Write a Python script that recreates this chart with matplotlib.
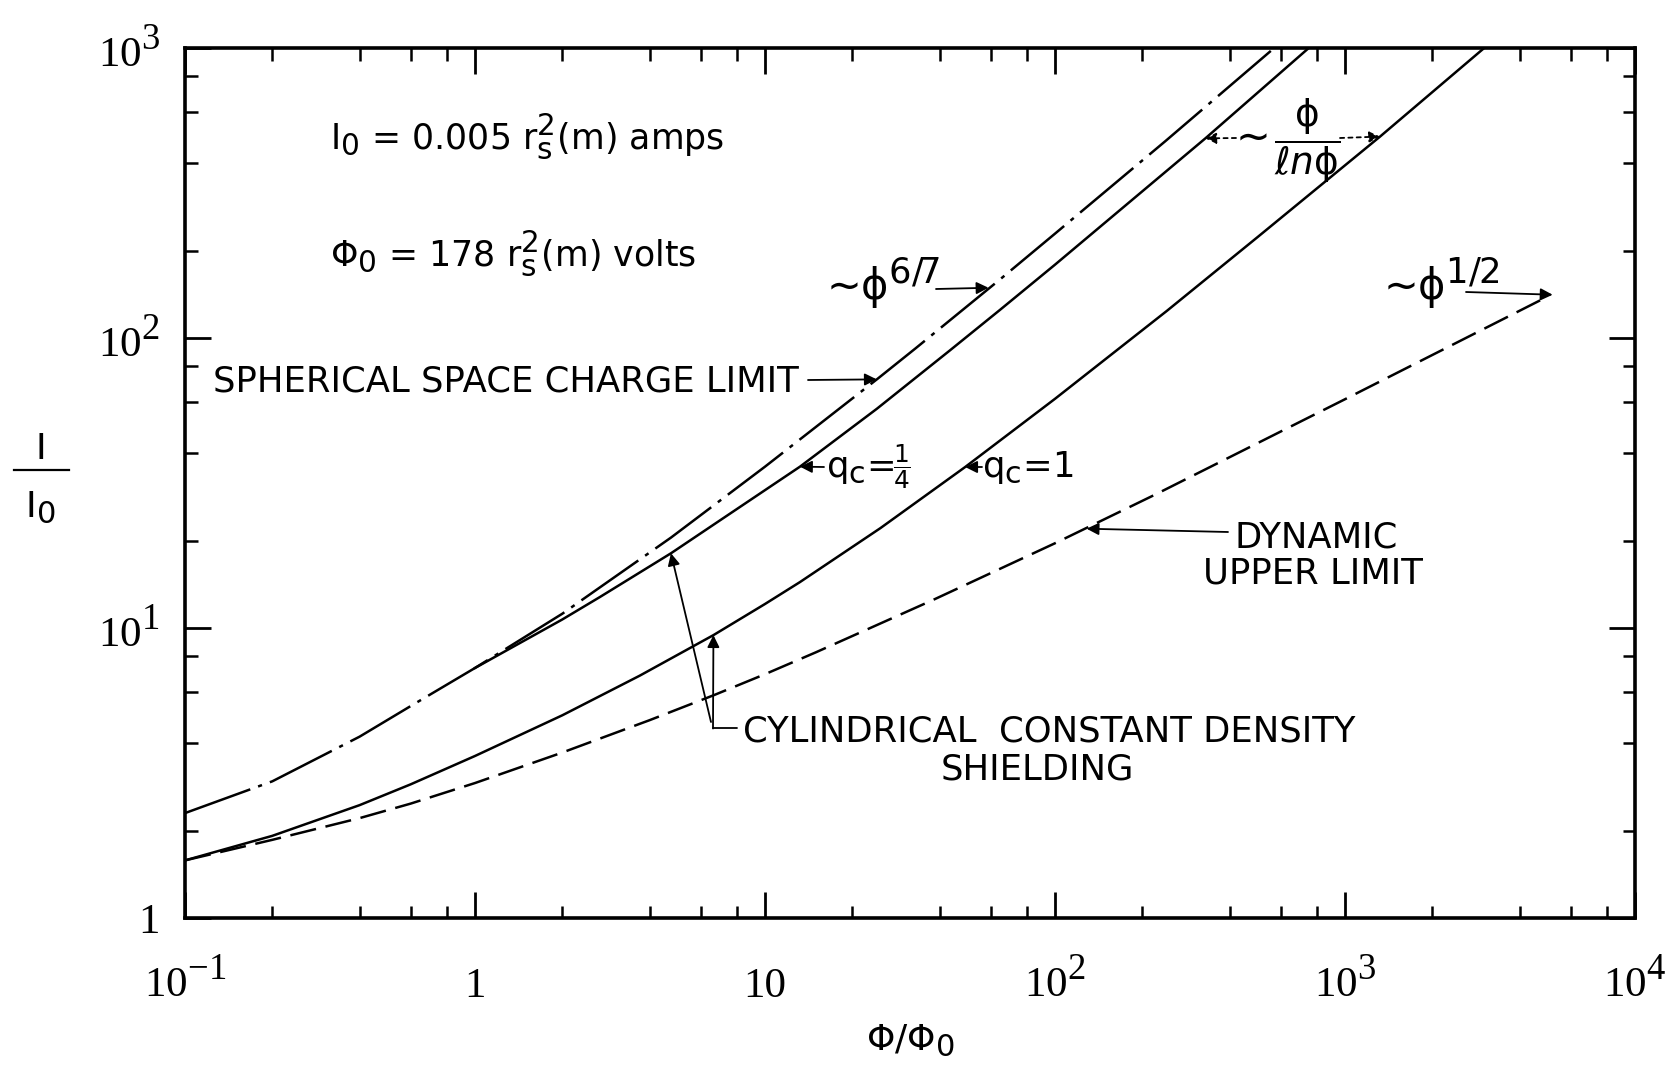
import matplotlib
matplotlib.use("Agg")
import matplotlib.pyplot as plt
from matplotlib.lines import Line2D
from matplotlib.ticker import FixedLocator, LogLocator, NullFormatter

try:  # larger sub/superscripts, as in the original lettering
    import matplotlib._mathtext as _mt
    _mt.SHRINK_FACTOR = 0.85
except Exception:
    pass

plt.rcParams['lines.scale_dashes'] = False
plt.rcParams['mathtext.fontset'] = 'custom'
plt.rcParams['mathtext.rm'] = 'Liberation Serif'
plt.rcParams['mathtext.sf'] = 'DejaVu Sans'
plt.rcParams['mathtext.it'] = 'DejaVu Sans:italic'
plt.rcParams['mathtext.bf'] = 'DejaVu Sans:bold'
plt.rcParams['font.family'] = ['DejaVu Sans']

# ---------------- data ----------------
# spherical space charge limit (dash-dot)
scl_x = [0.1, 0.2, 0.4, 0.6, 1.0, 2.0, 4.74, 10, 24.3, 33, 65, 100, 240, 570]
scl_y = [2.30, 2.96, 4.22, 5.38, 7.28, 11.2, 20.5, 36.0, 72, 92, 160, 229, 477, 1000]

# cylindrical constant density shielding, q_c = 1/4 (solid)
qquarter_x = [1.0, 2.0, 2.7, 4.74, 13.2, 24.3, 43.4, 64.6, 100, 330, 750]
qquarter_y = [7.28, 10.7, 12.8, 18.1, 36.0, 57, 90.6, 125, 179, 488, 1000]

# cylindrical constant density shielding, q_c = 1 (solid)
qone_x = [0.1, 0.2, 0.4, 0.6, 1.0, 2.0, 3.7, 6.64, 10, 13.2, 25, 49, 100, 243, 500, 1321, 3020]
qone_y = [1.58, 1.92, 2.45, 2.89, 3.62, 5.0, 6.85, 9.45, 12.1, 14.4, 22.1, 35.9, 61.7, 124, 223, 495, 1000]

# dynamic upper limit (dashed)
dul_x = [0.1, 0.2, 0.4, 0.6, 1.0, 2.0, 4.0, 6.7, 10, 15, 38, 100, 224, 1000, 5000]
dul_y = [1.58, 1.86, 2.21, 2.48, 2.92, 3.72, 4.81, 5.88, 6.93, 8.25, 12.5, 19.6, 29.0, 61.5, 139]

xticks = [0.1, 1, 10, 100, 1000, 10000]
xticklabels = [r'10$^{\mathrm{-1}}$', '1', '10', r'10$^{\mathrm{2}}$', r'10$^{\mathrm{3}}$', r'10$^{\mathrm{4}}$']
yticks = [1, 10, 100, 1000]
yticklabels = ['1', r'10$^{\mathrm{1}}$', r'10$^{\mathrm{2}}$', r'10$^{\mathrm{3}}$']

# ---------------- figure ----------------
W, H = 1668, 1073
fig = plt.figure(figsize=(W / 100, H / 100), dpi=100)
AX_L, AX_R, AX_T, AX_B = 185, 1635, 48, 918
ax = fig.add_axes([AX_L / W, 1 - AX_B / H, (AX_R - AX_L) / W, (AX_B - AX_T) / H])


def P(px, py):
    """pixel position in the picture -> axes fraction"""
    return ((px - AX_L) / (AX_R - AX_L), (AX_B - py) / (AX_B - AX_T))


LW = 1.8
ax.plot(scl_x, scl_y, color='black', lw=LW, linestyle=(0, (50, 6, 3, 6)))
ax.plot(qquarter_x, qquarter_y, color='black', lw=LW)
ax.plot(qone_x, qone_y, color='black', lw=LW)
ax.plot(dul_x, dul_y, color='black', lw=LW, linestyle=(0, (19, 7)))

ax.set_xscale('log')
ax.set_yscale('log')
ax.set_xlim(0.1, 1e4)
ax.set_ylim(1, 1e3)

ax.xaxis.set_major_locator(FixedLocator(xticks))
ax.yaxis.set_major_locator(FixedLocator(yticks))
ax.xaxis.set_minor_locator(LogLocator(base=10, subs=(2, 4, 6, 8), numticks=30))
ax.yaxis.set_minor_locator(LogLocator(base=10, subs=(2, 4, 6, 8), numticks=30))
ax.xaxis.set_minor_formatter(NullFormatter())
ax.yaxis.set_minor_formatter(NullFormatter())
ax.set_xticklabels(xticklabels)
ax.set_yticklabels(yticklabels)

ax.tick_params(which='both', direction='in', top=True, right=True, colors='black')
ax.tick_params(which='major', length=19, width=2.0)
ax.tick_params(which='minor', length=9, width=1.8)
ax.tick_params(axis='x', which='major', pad=57)
ax.tick_params(axis='y', which='major', pad=18)
for lab in ax.get_xticklabels():
    lab.set_fontfamily('Liberation Serif')
    lab.set_fontsize(31)
    lab.set_va('baseline')
for lab in ax.get_yticklabels():
    lab.set_fontfamily('Liberation Serif')
    lab.set_fontsize(31)

for sp in ax.spines.values():
    sp.set_linewidth(2.6)

TS = 25.5
arrow = dict(arrowstyle='-|>', color='black', lw=1.3, mutation_scale=18, shrinkA=0, shrinkB=0)
dotted_arrow = dict(arrowstyle='-|>', color='black', lw=1.3, mutation_scale=16, shrinkA=0, shrinkB=0,
                    linestyle=(0, (3, 3)))
line = dict(arrowstyle='-', color='black', lw=1.3, shrinkA=0, shrinkB=0)

# constants
ax.text(*P(330, 149), r'I$_\mathsf{0}$ = 0.005 r$_\mathsf{s}^\mathsf{2}$(m) amps', transform=ax.transAxes,
        fontsize=25, ha='left', va='baseline')
ax.text(*P(330, 266), r'$\mathsf{\Phi}_\mathsf{0}$ = 178 r$_\mathsf{s}^\mathsf{2}$(m) volts', transform=ax.transAxes,
        fontsize=25, ha='left', va='baseline')

# spherical space charge limit
ax.text(*P(213, 392), 'SPHERICAL SPACE CHARGE LIMIT', transform=ax.transAxes, fontsize=TS,
        ha='left', va='baseline')
ax.annotate('', xy=(24.3, 72), xycoords='data', xytext=P(808, 380), textcoords='axes fraction',
            arrowprops=arrow)

# ~phi^(6/7)
ax.text(*P(826, 300), '\u223c\u03d5$^{\\mathsf{6/7}}$', transform=ax.transAxes, fontsize=30,
        ha='left', va='baseline')
ax.annotate('', xy=(59, 149), xycoords='data', xytext=P(936, 289), textcoords='axes fraction',
            arrowprops=arrow)

# q_c labels
ax.text(*P(826, 477), r'q$_\mathsf{c}$=', transform=ax.transAxes, fontsize=TS,
        ha='left', va='baseline')
ax.text(*P(902, 467), r'$\mathsf{\frac{1}{4}}$', transform=ax.transAxes, fontsize=21,
        ha='center', va='center')
ax.annotate('', xy=(13.2, 36.0), xycoords='data', xytext=P(824, 467), textcoords='axes fraction',
            arrowprops=arrow)
ax.text(*P(982, 477), r'q$_\mathsf{c}$=1', transform=ax.transAxes, fontsize=TS,
        ha='left', va='baseline')
ax.annotate('', xy=(49, 35.9), xycoords='data', xytext=P(982, 467), textcoords='axes fraction',
            arrowprops=arrow)

# dynamic upper limit
ax.text(*P(1316, 547), 'DYNAMIC', transform=ax.transAxes, fontsize=TS, ha='center', va='baseline')
ax.text(*P(1313, 584), 'UPPER LIMIT', transform=ax.transAxes, fontsize=TS, ha='center', va='baseline')
ax.annotate('', xy=(128.5, 22.0), xycoords='data', xytext=P(1228, 532), textcoords='axes fraction',
            arrowprops=arrow)

# cylindrical constant density shielding
ax.text(*P(743, 742), 'CYLINDRICAL  CONSTANT DENSITY', transform=ax.transAxes, fontsize=TS,
        ha='left', va='baseline')
ax.text(*P(1037, 780), 'SHIELDING', transform=ax.transAxes, fontsize=TS, ha='center', va='baseline')
ax.annotate('', xy=P(737, 728), xycoords='axes fraction', xytext=P(713, 728), textcoords='axes fraction',
            arrowprops=line)
ax.annotate('', xy=(6.64, 9.45), xycoords='data', xytext=P(713, 728.5), textcoords='axes fraction',
            arrowprops=arrow)
ax.annotate('', xy=(4.74, 18.1), xycoords='data', xytext=P(711, 722), textcoords='axes fraction',
            arrowprops=arrow)

# ~ phi / ln phi
ax.text(*P(1253, 138), '\u223c', transform=ax.transAxes, fontsize=30, ha='center', va='center')
ax.text(*P(1307, 141), r'$\dfrac{\mathsf{\phi}}{\mathit{\ell n}\mathsf{\phi}}$', transform=ax.transAxes,
        fontsize=27, ha='center', va='center')
ax.annotate('', xy=(330, 488), xycoords='data', xytext=P(1236, 138), textcoords='axes fraction',
            arrowprops=dotted_arrow)
ax.annotate('', xy=(1321, 495), xycoords='data', xytext=P(1340, 138), textcoords='axes fraction',
            arrowprops=dotted_arrow)

# ~phi^(1/2)
ax.text(*P(1383, 300), '\u223c\u03d5$^{\\mathsf{1/2}}$', transform=ax.transAxes, fontsize=30,
        ha='left', va='baseline')
ax.annotate('', xy=(5200, 141), xycoords='data', xytext=P(1466, 292), textcoords='axes fraction',
            arrowprops=arrow)

# axis labels
fig.text(41 / W, 1 - 459 / H, 'I', fontsize=26, ha='center', va='baseline')
fig.add_artist(Line2D([14 / W, 69 / W], [1 - 470 / H, 1 - 470 / H], transform=fig.transFigure,
                      color='black', lw=1.6))
fig.text(40 / W, 1 - 517 / H, r'I$_\mathsf{0}$', fontsize=26, ha='center', va='baseline')
fig.text(910 / W, 1 - 1040 / H, r'$\mathsf{\Phi/\Phi_0}$', fontsize=26, ha='center', va='center')

fig.savefig('out.png', dpi=100, facecolor='white')
